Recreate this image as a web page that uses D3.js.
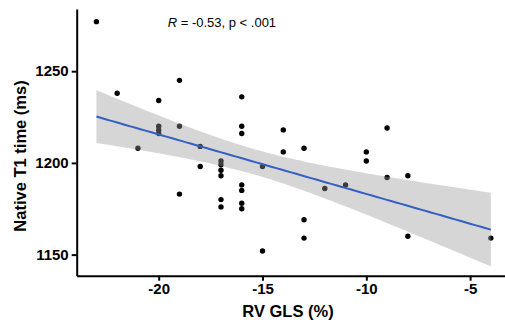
<!DOCTYPE html>
<html><head><meta charset="utf-8">
<script src="https://cdn.jsdelivr.net/npm/d3@7"></script>
<style>
html,body{margin:0;padding:0;background:#fff;}
svg{display:block;font-family:"Liberation Sans",Arial,sans-serif;}
</style></head>
<body>
<svg id="chart" width="505" height="325"></svg>
<script>
// RV GLS (%) values
const glsValues = [
  -23,
  -22,
  -21,
  -20, -20, -20, -20,
  -19, -19, -19,
  -18, -18,
  -17, -17, -17, -17, -17, -17,
  -16, -16, -16, -16, -16, -16, -16,
  -15, -15,
  -14, -14,
  -13, -13, -13,
  -12,
  -11,
  -10, -10,
  -9, -9,
  -8, -8,
  -4
];
// Native T1 time (ms) values
const t1Values = [
  1277,
  1238,
  1208,
  1234, 1220, 1218, 1216,
  1245, 1220, 1183,
  1209, 1198,
  1201, 1199, 1196, 1193, 1180, 1176,
  1236, 1220, 1216, 1188, 1185, 1178, 1175,
  1198, 1152,
  1218, 1206,
  1208, 1169, 1159,
  1186,
  1188,
  1206, 1201,
  1219, 1192,
  1193, 1160,
  1159
];
const xTicks = [-20, -15, -10, -5];
const yTicks = [1150, 1200, 1250];
const xDomain = [-23.95, -3.05];
const yDomain = [1138.5, 1283.9];
const annotation = {r: "-0.53", p: "p < .001"};
const xTitle = "RV GLS (%)";
const yTitle = "Native T1 time (ms)";

const svg = d3.select("#chart");
const x = d3.scaleLinear().domain(xDomain).range([76.7, 510.6]);
const y = d3.scaleLinear().domain(yDomain).range([275.7, 9]);

const pts = glsValues.map((v, i) => ({x: v, y: t1Values[i]}));

// linear regression with 95% CI
const n = pts.length;
const mx = d3.mean(pts, d => d.x), my = d3.mean(pts, d => d.y);
const sxx = d3.sum(pts, d => (d.x - mx) ** 2);
const sxy = d3.sum(pts, d => (d.x - mx) * (d.y - my));
const b = sxy / sxx, a = my - b * mx;
const sse = d3.sum(pts, d => (d.y - (a + b * d.x)) ** 2);
const s = Math.sqrt(sse / (n - 2));
const tval = 2.0227; // t(0.975, df=39)
const [xmin, xmax] = d3.extent(pts, d => d.x);
const grid = d3.range(80).map(i => xmin + (xmax - xmin) * i / 79);
const fit = grid.map(gx => {
  const yh = a + b * gx;
  const se = s * Math.sqrt(1 / n + (gx - mx) ** 2 / sxx);
  return {x: gx, y: yh, lo: yh - tval * se, hi: yh + tval * se};
});

// points (drawn first, like ggplot)
svg.append("g").selectAll("circle").data(pts).join("circle")
  .attr("cx", d => x(d.x)).attr("cy", d => y(d.y)).attr("r", 2.7)
  .attr("fill", "#000");

// ribbon
svg.append("path").datum(fit)
  .attr("d", d3.area().x(d => x(d.x)).y0(d => y(d.lo)).y1(d => y(d.hi)))
  .attr("fill", "#999999").attr("fill-opacity", 0.4);

// line
svg.append("path").datum(fit)
  .attr("d", d3.line().x(d => x(d.x)).y(d => y(d.y)))
  .attr("fill", "none").attr("stroke", "#3460C4").attr("stroke-width", 2);

// axes
const xAxis = svg.append("g").attr("transform", "translate(0,275.7)")
  .call(d3.axisBottom(x).tickValues(xTicks).tickSize(5).tickPadding(3).tickSizeOuter(0).tickFormat(d3.format("d")));
const yAxis = svg.append("g").attr("transform", "translate(76.7,0)")
  .call(d3.axisLeft(y).tickValues(yTicks).tickSize(5).tickPadding(3).tickSizeOuter(0).tickFormat(d3.format("d")));
[xAxis, yAxis].forEach(g => {
  g.select(".domain").attr("stroke", "#000").attr("stroke-width", 2);
  g.selectAll(".tick line").attr("stroke", "#000").attr("stroke-width", 2);
  g.selectAll(".tick text").attr("fill", "#000").attr("font-size", 15).attr("font-weight", "bold")
    .attr("font-family", "'Liberation Sans',Arial,sans-serif");
});
xAxis.selectAll(".tick text").text(d => d3.format("d")(d).replace("−", "-"));

// titles
svg.append("text").attr("x", 288).attr("y", 316.7).attr("text-anchor", "middle")
  .attr("font-size", 16.5).attr("font-weight", "bold").text(xTitle);
svg.append("text").attr("transform", "translate(26,156) rotate(-90)").attr("text-anchor", "middle")
  .attr("font-size", 16.5).attr("font-weight", "bold").text(yTitle);

// annotation
const ann = svg.append("text").attr("x", 167.7).attr("y", 26.7).attr("font-size", 13).attr("fill", "#000");
ann.append("tspan").attr("font-style", "italic").text("R");
ann.append("tspan").text(" = " + annotation.r + ", " + annotation.p);
</script>
</body></html>
